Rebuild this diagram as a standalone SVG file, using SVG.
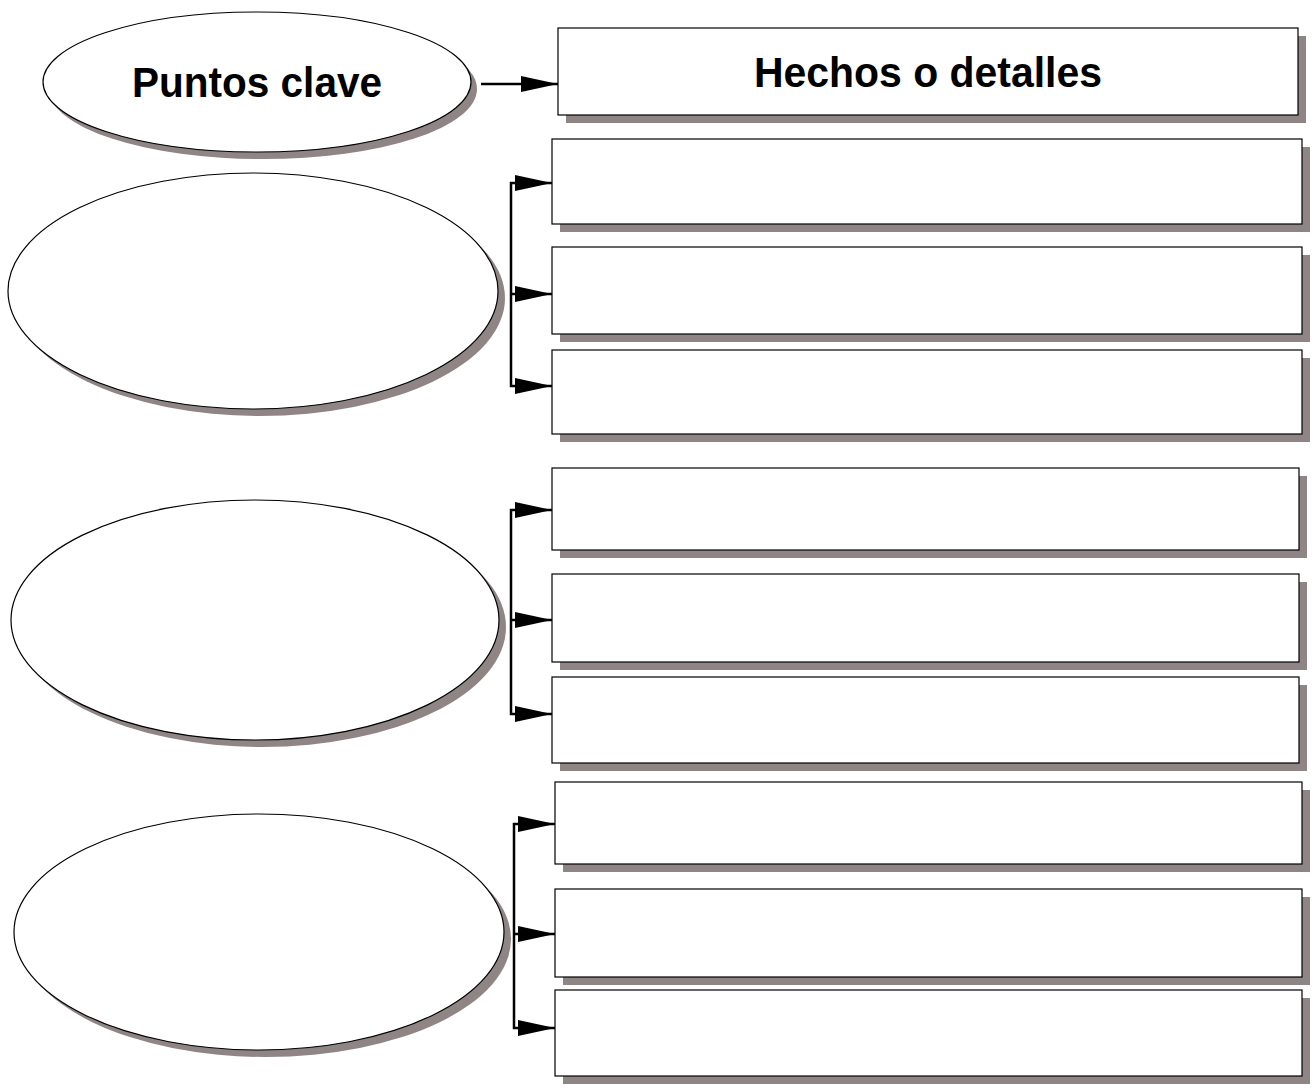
<svg xmlns="http://www.w3.org/2000/svg" width="1315" height="1089" viewBox="0 0 1315 1089">
<style>
.sh{fill:#8e8584;stroke:none}
.nd{fill:#fff;stroke:#000;stroke-width:1.2}
.cn{fill:none;stroke:#000;stroke-width:2.5}
.ar{stroke:#000;stroke-width:0.1}
.t{font-family:"Liberation Sans",Arial,sans-serif;font-weight:bold;font-size:43px;fill:#000}
</style>
<defs>
<marker id="ah" markerWidth="37" markerHeight="16" refX="37" refY="8" orient="auto" markerUnits="userSpaceOnUse">
<path d="M0,0 L37,8 L0,16 Z" fill="#000"/>
</marker>
</defs>
<rect width="1315" height="1089" fill="#fff"/>
<g id="title-ellipse">
<ellipse class="sh" cx="263" cy="89" rx="214" ry="70"/>
<ellipse class="nd" cx="257" cy="82" rx="214" ry="70"/>
<text class="t" x="257" y="97" text-anchor="middle" textLength="250" lengthAdjust="spacingAndGlyphs">Puntos clave</text>
</g>
<g id="title-rect">
<rect class="sh" x="566" y="36" width="740" height="87"/>
<rect class="nd" x="558" y="28" width="740" height="87"/>
<text class="t" x="928" y="87" text-anchor="middle" textLength="348" lengthAdjust="spacingAndGlyphs">Hechos o detalles</text>
</g>
<g id="e1"><ellipse class="sh" cx="260" cy="298" rx="245" ry="118"/><ellipse class="nd" cx="253" cy="291" rx="245" ry="118"/></g>
<g id="r1a"><rect class="sh" x="560" y="147" width="750" height="85"/><rect class="nd" x="552" y="139" width="750" height="85"/></g>
<g id="r1b"><rect class="sh" x="560" y="255" width="750" height="87"/><rect class="nd" x="552" y="247" width="750" height="87"/></g>
<g id="r1c"><rect class="sh" x="560" y="358" width="750" height="84"/><rect class="nd" x="552" y="350" width="750" height="84"/></g>
<g id="e2"><ellipse class="sh" cx="262" cy="627" rx="244" ry="120"/><ellipse class="nd" cx="255" cy="620" rx="244" ry="120"/></g>
<g id="r2a"><rect class="sh" x="560" y="476" width="747" height="82"/><rect class="nd" x="552" y="468" width="747" height="82"/></g>
<g id="r2b"><rect class="sh" x="560" y="582" width="747" height="88"/><rect class="nd" x="552" y="574" width="747" height="88"/></g>
<g id="r2c"><rect class="sh" x="560" y="685" width="747" height="86"/><rect class="nd" x="552" y="677" width="747" height="86"/></g>
<g id="e3"><ellipse class="sh" cx="266" cy="939" rx="245" ry="118"/><ellipse class="nd" cx="259" cy="932" rx="245" ry="118"/></g>
<g id="r3a"><rect class="sh" x="563" y="790" width="747" height="82"/><rect class="nd" x="555" y="782" width="747" height="82"/></g>
<g id="r3b"><rect class="sh" x="563" y="897" width="747" height="88"/><rect class="nd" x="555" y="889" width="747" height="88"/></g>
<g id="r3c"><rect class="sh" x="563" y="998" width="747" height="86"/><rect class="nd" x="555" y="990" width="747" height="86"/></g>
<g id="connectors">
<line class="cn" x1="481" y1="84" x2="558" y2="84" marker-end="url(#ah)"/>
<path class="cn" d="M552,183 H511 V386 H552"/>
<line class="cn" x1="511" y1="294" x2="552" y2="294"/>
<line class="ar" x1="515" y1="183" x2="552" y2="183" marker-end="url(#ah)"/>
<line class="ar" x1="515" y1="294" x2="552" y2="294" marker-end="url(#ah)"/>
<line class="ar" x1="515" y1="386" x2="552" y2="386" marker-end="url(#ah)"/>
<path class="cn" d="M552,510 H511 V714 H552"/>
<line class="cn" x1="511" y1="620" x2="552" y2="620"/>
<line class="ar" x1="515" y1="510" x2="552" y2="510" marker-end="url(#ah)"/>
<line class="ar" x1="515" y1="620" x2="552" y2="620" marker-end="url(#ah)"/>
<line class="ar" x1="515" y1="714" x2="552" y2="714" marker-end="url(#ah)"/>
<path class="cn" d="M555,824 H514 V1028 H555"/>
<line class="cn" x1="514" y1="934" x2="555" y2="934"/>
<line class="ar" x1="518" y1="824" x2="555" y2="824" marker-end="url(#ah)"/>
<line class="ar" x1="518" y1="934" x2="555" y2="934" marker-end="url(#ah)"/>
<line class="ar" x1="518" y1="1028" x2="555" y2="1028" marker-end="url(#ah)"/>
</g>
</svg>
